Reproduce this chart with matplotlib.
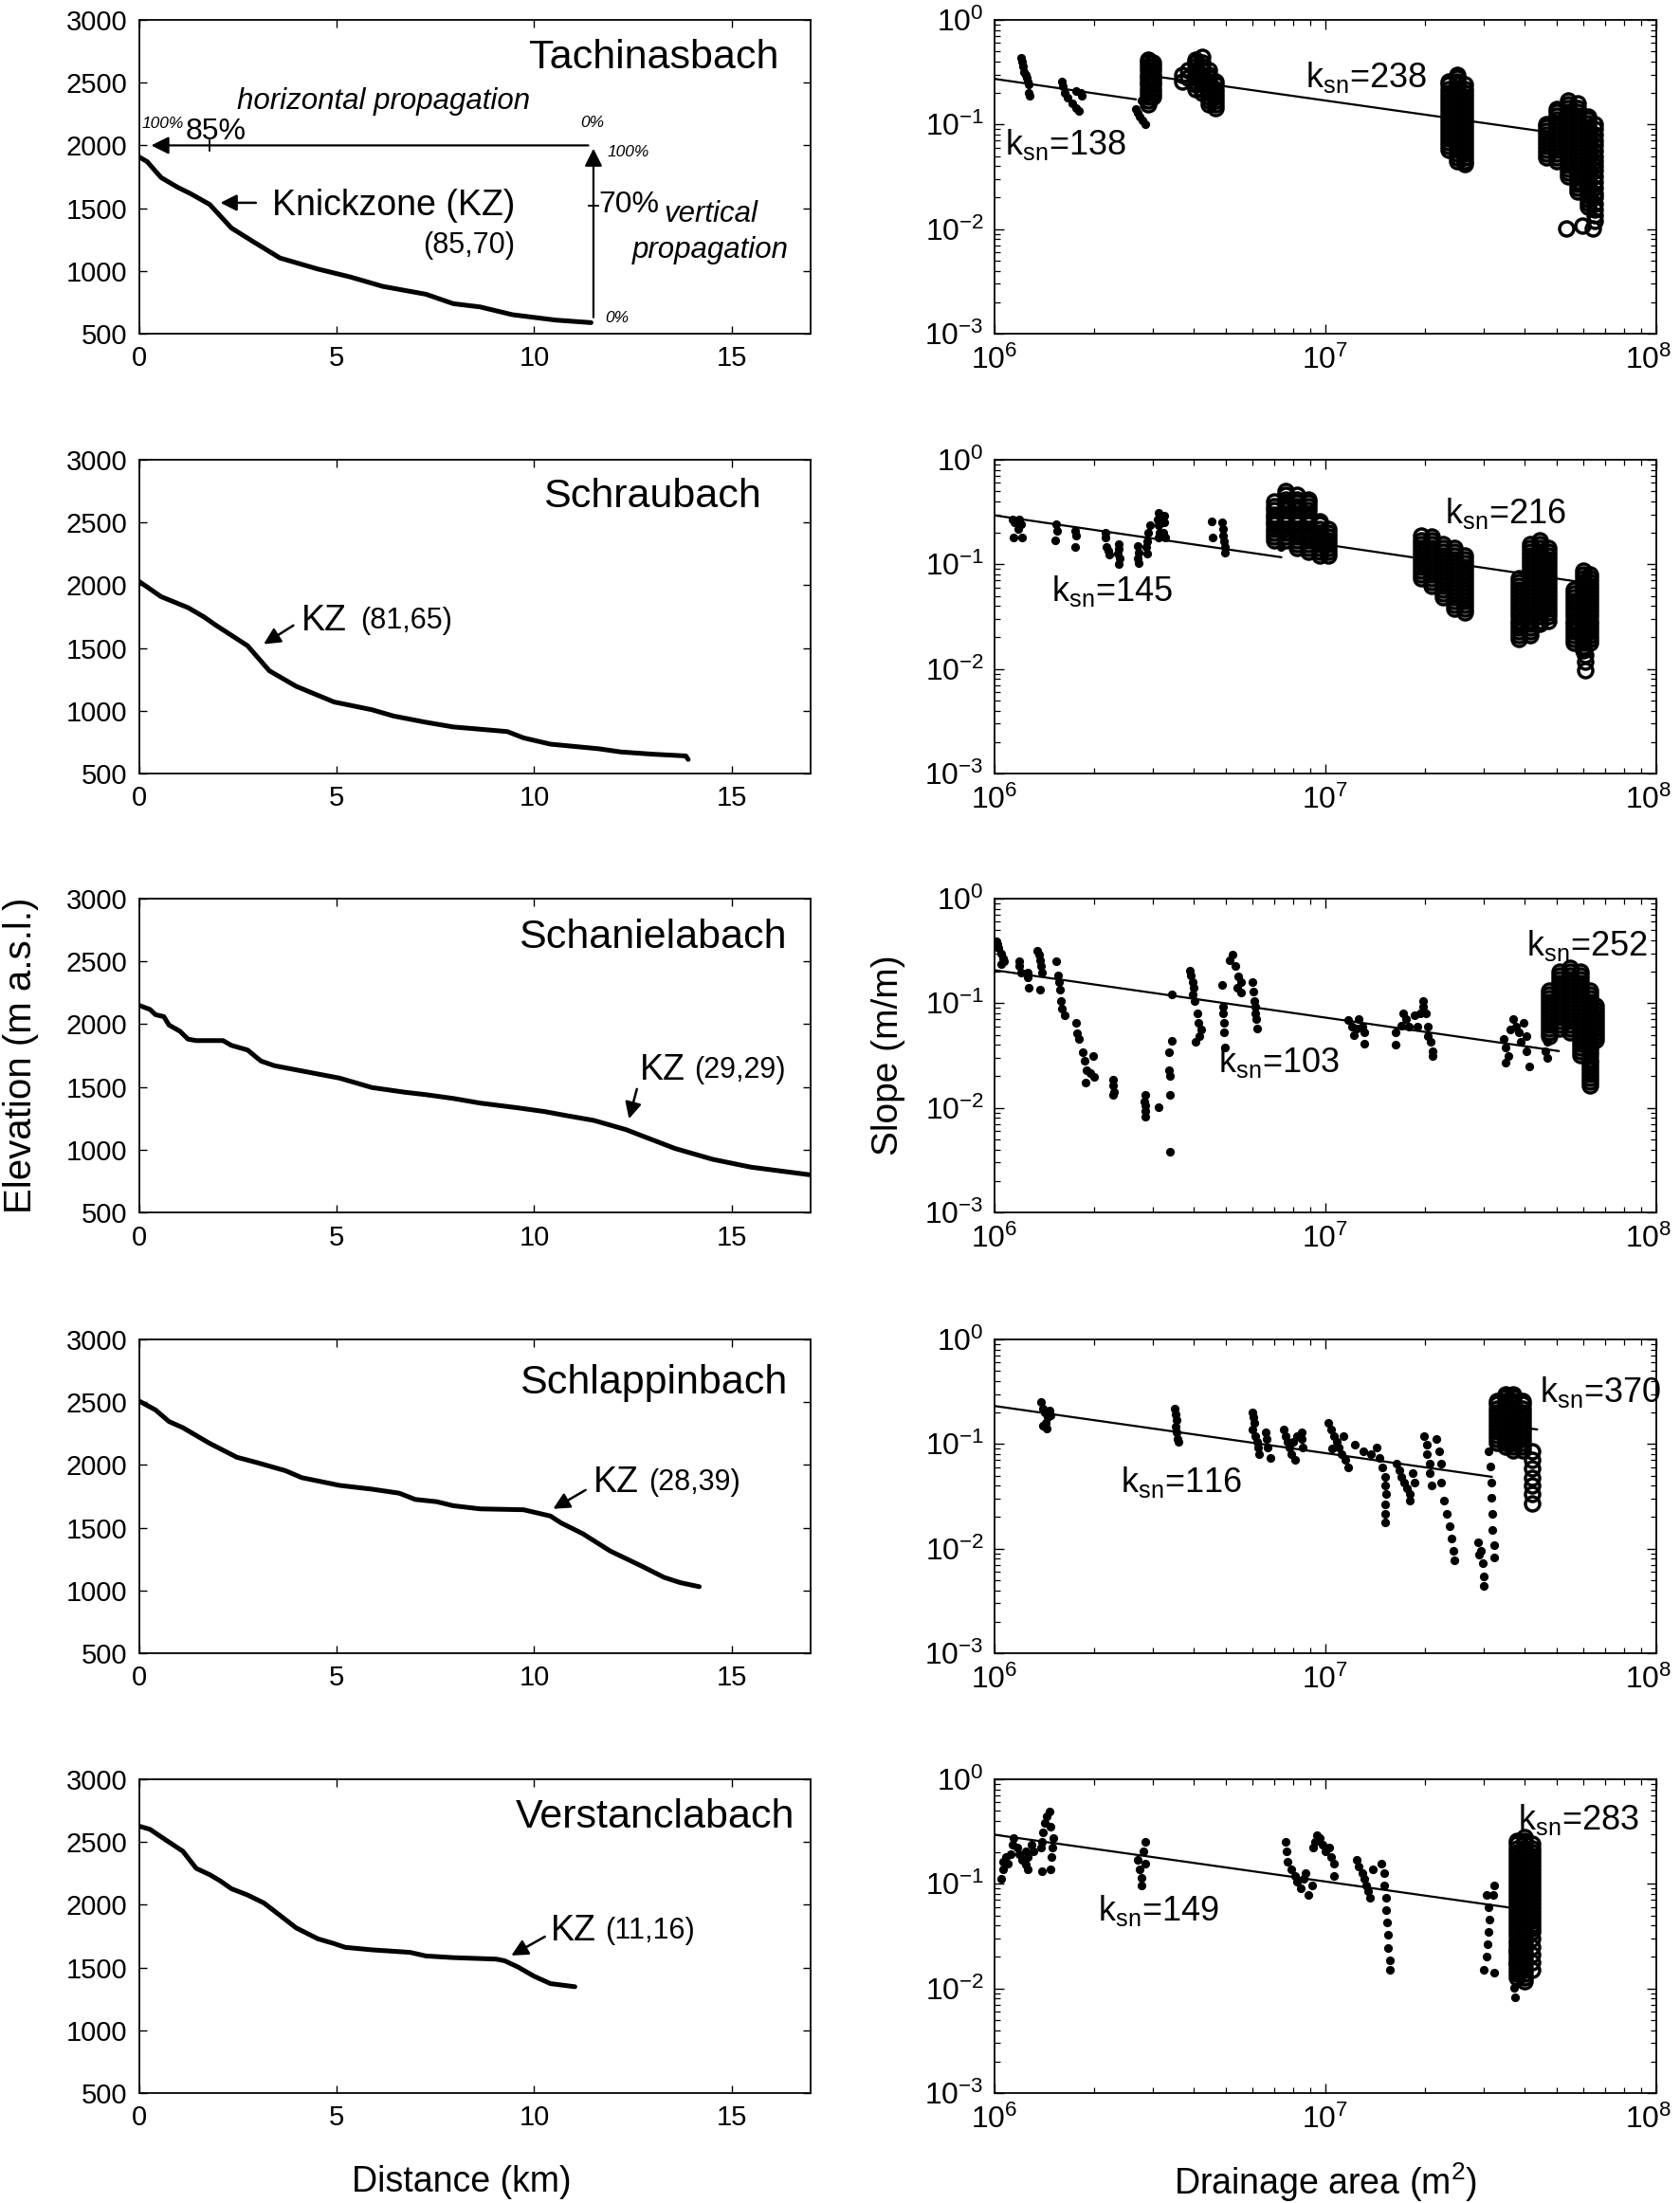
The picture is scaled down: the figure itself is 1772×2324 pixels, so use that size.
import numpy as np
import matplotlib
matplotlib.use('Agg')
import matplotlib.pyplot as plt
from matplotlib.ticker import LogLocator, NullFormatter, FixedLocator
from matplotlib.transforms import ScaledTranslation

plt.rcParams['font.family'] = ['Liberation Sans', 'DejaVu Sans']
plt.rcParams['mathtext.fontset'] = 'custom'
plt.rcParams['mathtext.rm'] = 'Liberation Sans'
plt.rcParams['mathtext.it'] = 'Liberation Sans:italic'
plt.rcParams['mathtext.bf'] = 'Liberation Sans:bold'

# ---------------- data ----------------
rivers = ['Tachinasbach', 'Schraubach', 'Schanielabach', 'Schlappinbach', 'Verstanclabach']

# long profiles: distance (km), elevation (m a.s.l.)
dist_1 = [0, 0.2, 0.55, 0.96, 1.3, 1.78, 2.33, 2.9, 3.56, 4.52, 5.34, 6.16, 7.26, 7.95, 8.63, 9.45, 10.55, 11.44]
elev_1 = [1907, 1870, 1744, 1668, 1615, 1530, 1342, 1230, 1103, 1015, 952, 877, 814, 739, 713, 651, 608, 588]
dist_2 = [0, 0.55, 1.23, 1.64, 1.92, 2.74, 3.29, 3.97, 4.93, 5.89, 6.44, 7.26, 7.95, 8.63, 9.32, 9.73, 10.41, 11.64, 12.19, 13.0, 13.84, 13.9]
elev_2 = [2029, 1909, 1822, 1747, 1685, 1518, 1319, 1195, 1070, 1008, 958, 908, 871, 853, 834, 784, 734, 697, 672, 654, 640, 612]
dist_3 = [0, 0.27, 0.41, 0.62, 0.75, 1.03, 1.23, 1.44, 2.12, 2.33, 2.74, 3.08, 3.42, 4.25, 5.07, 5.89, 6.71, 7.26, 7.95, 8.63, 9.59, 10.27, 10.82, 11.51, 12.33, 12.74, 13.56, 14.52, 15.48, 17.0]
elev_3 = [2149, 2117, 2075, 2060, 1993, 1943, 1881, 1869, 1869, 1831, 1794, 1706, 1669, 1619, 1570, 1495, 1458, 1438, 1408, 1371, 1333, 1303, 1271, 1233, 1159, 1109, 1010, 923, 861, 799]
dist_4 = [0, 0.41, 0.75, 1.1, 1.78, 2.47, 3.01, 3.7, 4.11, 5.07, 5.89, 6.58, 6.99, 7.53, 7.95, 8.63, 9.73, 10.41, 10.68, 11.23, 11.92, 12.74, 13.29, 13.7, 14.18]
elev_4 = [2508, 2438, 2346, 2297, 2172, 2061, 2016, 1954, 1899, 1837, 1807, 1775, 1725, 1707, 1675, 1650, 1643, 1593, 1538, 1452, 1315, 1191, 1104, 1062, 1030]
dist_5 = [0, 0.27, 0.68, 1.1, 1.44, 1.78, 2.05, 2.33, 2.74, 3.15, 3.56, 3.97, 4.52, 4.93, 5.21, 5.89, 6.85, 7.26, 7.95, 9.04, 9.25, 9.59, 10.0, 10.41, 11.03]
elev_5 = [2626, 2601, 2514, 2427, 2290, 2240, 2190, 2128, 2078, 2015, 1916, 1816, 1729, 1691, 1661, 1641, 1621, 1592, 1579, 1567, 1554, 1504, 1430, 1372, 1347]

# knickzone labels (horizontal %, vertical %)
kz_labels = ['(85,70)', '(81,65)', '(29,29)', '(28,39)', '(11,16)']
# arrow tail / head (km, m)
kz_tail = [(2.95, 1543), (3.9, 1680), (12.6, 1483), (11.3, 1800), (10.27, 1746)]
kz_head = [(2.05, 1543), (3.15, 1531), (12.4, 1246), (10.48, 1650), (9.42, 1596)]

# slope-area data: area in 10^6 m^2, slope in m/m
# small dots: (area, slope); circles: (area, [slopes at that area])
dots_1 = [(1.20, 0.43), (1.21, 0.40), (1.22, 0.36), (1.23, 0.32), (1.24, 0.30), (1.25, 0.28), (1.26, 0.26),
          (1.27, 0.24), (1.27, 0.20), (1.28, 0.19),
          (1.60, 0.26), (1.61, 0.23), (1.63, 0.20), (1.66, 0.18), (1.72, 0.16), (1.76, 0.145), (1.80, 0.135),
          (1.76, 0.21), (1.82, 0.20), (1.84, 0.19),
          (2.68, 0.14), (2.70, 0.13), (2.75, 0.12), (2.80, 0.11), (2.86, 0.10), (2.78, 0.17)]
circ_1 = [(2.92, [0.42, 0.39, 0.36, 0.33, 0.30, 0.28, 0.26, 0.24, 0.22, 0.20, 0.185, 0.17, 0.156]),
          (3.00, [0.39, 0.36, 0.33, 0.30, 0.28, 0.26, 0.24, 0.22, 0.20, 0.185]),
          (3.70, [0.30, 0.26]), (3.85, [0.33, 0.28]),
          (4.05, [0.42, 0.39, 0.36, 0.33, 0.30, 0.28, 0.26, 0.24, 0.22]),
          (4.25, [0.44, 0.39, 0.36, 0.33, 0.30, 0.28, 0.26, 0.24, 0.22, 0.20]),
          (4.45, [0.33, 0.30, 0.28, 0.26, 0.24, 0.22, 0.20, 0.185, 0.17, 0.156]),
          (4.65, [0.26, 0.24, 0.22, 0.20, 0.185, 0.17, 0.156, 0.144]),
          (23.5, [0.26, 0.24, 0.22, 0.20, 0.185, 0.17, 0.156, 0.144, 0.132, 0.122, 0.112, 0.103, 0.095, 0.087,
                  0.08, 0.074, 0.068, 0.062, 0.057]),
          (25.0, [0.30, 0.28, 0.26, 0.24, 0.22, 0.20, 0.185, 0.17, 0.156, 0.144, 0.132, 0.122, 0.112, 0.103, 0.095,
                  0.087, 0.08, 0.074, 0.068, 0.062, 0.057, 0.053, 0.049, 0.045]),
          (26.3, [0.24, 0.22, 0.20, 0.185, 0.17, 0.156, 0.144, 0.132, 0.122, 0.112, 0.103, 0.095, 0.087, 0.08,
                  0.074, 0.068, 0.062, 0.057, 0.053, 0.049, 0.045, 0.042]),
          (46.5, [0.10, 0.095, 0.087, 0.08, 0.074, 0.068, 0.062, 0.057, 0.053, 0.049]),
          (50, [0.14, 0.132, 0.122, 0.112, 0.103, 0.095, 0.087, 0.08, 0.074, 0.068, 0.062, 0.057, 0.053, 0.049, 0.045]),
          (54, [0.17, 0.156, 0.144, 0.132, 0.122, 0.112, 0.103, 0.095, 0.087, 0.08, 0.074, 0.068, 0.062, 0.057,
                0.053, 0.049, 0.045, 0.041, 0.038, 0.035, 0.032]),
          (58, [0.16, 0.144, 0.132, 0.122, 0.112, 0.103, 0.095, 0.087, 0.08, 0.074, 0.068, 0.062, 0.057, 0.053,
                0.049, 0.045, 0.041, 0.038, 0.035, 0.032, 0.029, 0.027, 0.025, 0.023]),
          (62, [0.12, 0.112, 0.103, 0.095, 0.087, 0.08, 0.074, 0.068, 0.062, 0.057, 0.053, 0.049, 0.045, 0.041,
                0.038, 0.035, 0.032, 0.029, 0.027, 0.025, 0.023, 0.021, 0.0193, 0.0178, 0.0164]),
          (65, [0.10, 0.09, 0.08, 0.07, 0.063, 0.056, 0.05, 0.045, 0.04, 0.036, 0.032, 0.028, 0.025, 0.022, 0.02,
                0.0175, 0.0155, 0.0135, 0.012]),
          (53.6, [0.0102]), (59.8, [0.0109]), (64.3, [0.0102])]

dots_2 = [(1.13, 0.27), (1.15, 0.25), (1.17, 0.26), (1.19, 0.27), (1.20, 0.24), (1.14, 0.18), (1.21, 0.18), (1.18, 0.22),
          (1.54, 0.24), (1.55, 0.21), (1.53, 0.17), (1.75, 0.21), (1.76, 0.19), (1.75, 0.146),
          (2.16, 0.20), (2.17, 0.18), (2.18, 0.146), (2.20, 0.136), (2.22, 0.123),
          (2.37, 0.156), (2.38, 0.14), (2.36, 0.127), (2.39, 0.115), (2.38, 0.10),
          (2.70, 0.15), (2.72, 0.13), (2.71, 0.115), (2.73, 0.103),
          (2.90, 0.167), (2.92, 0.20), (2.95, 0.236), (2.88, 0.146), (2.90, 0.127),
          (3.13, 0.31), (3.12, 0.27), (3.14, 0.236), (3.15, 0.20), (3.13, 0.18),
          (3.25, 0.29), (3.26, 0.25), (3.24, 0.20), (3.27, 0.18), (4.53, 0.26), (4.55, 0.18),
          (4.88, 0.25), (4.90, 0.22), (4.92, 0.19), (4.95, 0.167), (4.97, 0.146), (4.98, 0.13), (7.35, 0.146)]
circ_2 = [(7.0, [0.40, 0.36, 0.33, 0.30, 0.28, 0.26, 0.24, 0.22, 0.20, 0.185, 0.17]),
          (7.6, [0.50, 0.46, 0.42, 0.39, 0.36, 0.33, 0.30, 0.28, 0.26, 0.24, 0.22, 0.20, 0.185, 0.17]),
          (8.2, [0.46, 0.42, 0.39, 0.36, 0.33, 0.30, 0.28, 0.26, 0.24, 0.22, 0.20, 0.185, 0.17, 0.156, 0.144]),
          (8.9, [0.42, 0.39, 0.36, 0.33, 0.30, 0.28, 0.26, 0.24, 0.22, 0.20, 0.185, 0.17, 0.156, 0.144, 0.132]),
          (9.6, [0.26, 0.24, 0.22, 0.20, 0.185, 0.17, 0.156, 0.144, 0.132, 0.122]),
          (10.2, [0.22, 0.20, 0.185, 0.17, 0.156, 0.144, 0.132, 0.122]),
          (19.5, [0.19, 0.17, 0.156, 0.144, 0.132, 0.122, 0.112, 0.103, 0.095, 0.087, 0.08, 0.074]),
          (21.0, [0.185, 0.17, 0.156, 0.144, 0.132, 0.122, 0.112, 0.103, 0.095, 0.087, 0.08, 0.074, 0.068, 0.062]),
          (22.7, [0.156, 0.144, 0.132, 0.122, 0.112, 0.103, 0.095, 0.087, 0.08, 0.074, 0.068, 0.062, 0.057, 0.053, 0.049]),
          (24.5, [0.144, 0.132, 0.122, 0.112, 0.103, 0.095, 0.087, 0.08, 0.074, 0.068, 0.062, 0.057, 0.053, 0.049,
                  0.045, 0.041, 0.038]),
          (26.3, [0.122, 0.112, 0.103, 0.095, 0.087, 0.08, 0.074, 0.068, 0.062, 0.057, 0.053, 0.049, 0.045, 0.041,
                  0.038, 0.035]),
          (38.5, [0.074, 0.068, 0.062, 0.057, 0.053, 0.049, 0.045, 0.041, 0.038, 0.035, 0.032, 0.029, 0.027, 0.025,
                  0.023, 0.021, 0.0193]),
          (41.5, [0.156, 0.144, 0.132, 0.122, 0.112, 0.103, 0.095, 0.087, 0.08, 0.074, 0.068, 0.062, 0.057, 0.053,
                  0.049, 0.045, 0.041, 0.038, 0.035, 0.032, 0.029, 0.027, 0.025, 0.023, 0.021]),
          (44.5, [0.17, 0.156, 0.144, 0.132, 0.122, 0.112, 0.103, 0.095, 0.087, 0.08, 0.074, 0.068, 0.062, 0.057,
                  0.053, 0.049, 0.045, 0.041, 0.038, 0.035, 0.032, 0.029, 0.027]),
          (47.0, [0.144, 0.132, 0.122, 0.112, 0.103, 0.095, 0.087, 0.08, 0.074, 0.068, 0.062, 0.057, 0.053, 0.049,
                  0.045, 0.041, 0.038, 0.035, 0.032, 0.029]),
          (56.5, [0.057, 0.053, 0.049, 0.045, 0.041, 0.038, 0.035, 0.032, 0.029, 0.027, 0.025, 0.023, 0.021, 0.0193, 0.0178]),
          (60.0, [0.087, 0.08, 0.074, 0.068, 0.062, 0.057, 0.053, 0.049, 0.045, 0.041, 0.038, 0.035, 0.032, 0.029,
                  0.027, 0.025, 0.023, 0.021, 0.0193, 0.0178, 0.0164, 0.015]),
          (63.0, [0.08, 0.074, 0.068, 0.062, 0.057, 0.053, 0.049, 0.045, 0.041, 0.038, 0.035, 0.032, 0.029, 0.027,
                  0.025, 0.023, 0.021, 0.0193, 0.0178]),
          (61.0, [0.0135, 0.0118, 0.0098])]

dots_3 = [(1.01, 0.39), (1.02, 0.37), (1.03, 0.34), (1.05, 0.30), (1.06, 0.27), (1.07, 0.25), (1.05, 0.235),
          (1.19, 0.25), (1.19, 0.226), (1.20, 0.197), (1.26, 0.197), (1.26, 0.178), (1.27, 0.14),
          (1.35, 0.32), (1.36, 0.29), (1.37, 0.26), (1.38, 0.226), (1.39, 0.197), (1.37, 0.135),
          (1.54, 0.25), (1.56, 0.184), (1.57, 0.16), (1.58, 0.135), (1.59, 0.105), (1.60, 0.089), (1.63, 0.077),
          (1.76, 0.065), (1.78, 0.052), (1.80, 0.046),
          (1.85, 0.034), (1.87, 0.028), (1.90, 0.023), (1.95, 0.0216), (1.88, 0.0175), (1.98, 0.031), (2.0, 0.0196),
          (2.28, 0.0187), (2.28, 0.0163), (2.29, 0.0143), (2.28, 0.0133),
          (2.85, 0.0133), (2.84, 0.0116), (2.86, 0.0105), (2.85, 0.0094), (2.86, 0.0082), (3.13, 0.0101),
          (3.38, 0.0038), (3.38, 0.0133), (3.38, 0.0202), (3.37, 0.0231), (3.36, 0.034), (3.43, 0.0434), (3.43, 0.122),
          (3.9, 0.204), (3.92, 0.184), (3.96, 0.16), (4.0, 0.14), (3.96, 0.122), (4.03, 0.106), (4.1, 0.0805),
          (4.12, 0.065), (4.2, 0.0566), (4.15, 0.049), (4.05, 0.043),
          (4.88, 0.149), (4.9, 0.093), (4.92, 0.0805), (4.93, 0.065), (4.95, 0.0528), (4.97, 0.0375),
          (5.15, 0.26), (5.25, 0.29), (5.35, 0.226), (5.45, 0.18), (5.55, 0.16), (5.40, 0.14), (5.57, 0.128),
          (6.0, 0.16), (6.05, 0.13), (6.1, 0.106), (6.12, 0.093), (6.15, 0.08), (6.18, 0.07), (6.2, 0.057),
          (11.7, 0.0698), (12.0, 0.060), (12.4, 0.057), (12.6, 0.070), (12.9, 0.060), (13.1, 0.053), (13.1, 0.041), (12.2, 0.050),
          (16.3, 0.0528), (16.3, 0.0406), (16.9, 0.0608), (17.2, 0.080), (17.5, 0.070), (17.9, 0.060), (18.6, 0.076),
          (19.0, 0.060), (19.3, 0.080), (19.7, 0.093), (19.7, 0.106), (20.1, 0.080), (20.4, 0.060), (20.4, 0.049),
          (20.8, 0.043), (21.1, 0.035), (21.1, 0.031),
          (34.5, 0.046), (35.1, 0.0375), (35.7, 0.031), (35.1, 0.027), (36.3, 0.0566), (36.9, 0.070), (37.6, 0.060),
          (38.3, 0.053), (39.0, 0.043), (39.7, 0.065), (40.4, 0.049), (40.4, 0.035), (41.2, 0.025),
          (46.3, 0.035), (46.7, 0.030), (46.7, 0.043)]
circ_3 = [(47.5, [0.132, 0.122, 0.112, 0.103, 0.095, 0.087, 0.08, 0.074, 0.068, 0.062, 0.057, 0.053, 0.049]),
          (51, [0.20, 0.185, 0.17, 0.156, 0.144, 0.132, 0.122, 0.112, 0.103, 0.095, 0.087, 0.08, 0.074, 0.068, 0.062, 0.057]),
          (55, [0.22, 0.20, 0.185, 0.17, 0.156, 0.144, 0.132, 0.122, 0.112, 0.103, 0.095, 0.087, 0.08, 0.074, 0.068,
                0.062, 0.057, 0.053]),
          (59, [0.20, 0.185, 0.17, 0.156, 0.144, 0.132, 0.122, 0.112, 0.103, 0.095, 0.087, 0.08, 0.074, 0.068, 0.062,
                0.057, 0.053, 0.049, 0.045, 0.041, 0.038, 0.035, 0.032]),
          (63, [0.132, 0.122, 0.112, 0.103, 0.095, 0.087, 0.08, 0.074, 0.068, 0.062, 0.057, 0.053, 0.049, 0.045,
                0.041, 0.038, 0.035, 0.032, 0.029, 0.027, 0.025, 0.023, 0.021, 0.0193, 0.0178, 0.0164]),
          (65.5, [0.095, 0.087, 0.08, 0.074, 0.068, 0.062, 0.057, 0.053, 0.049, 0.045])]

dots_4 = [(1.38, 0.25), (1.40, 0.22), (1.42, 0.20), (1.45, 0.18), (1.43, 0.16), (1.40, 0.15), (1.47, 0.21), (1.48, 0.19), (1.44, 0.14),
          (3.50, 0.216), (3.52, 0.194), (3.55, 0.17), (3.53, 0.148), (3.56, 0.129), (3.58, 0.112), (3.60, 0.105),
          (6.0, 0.202), (6.05, 0.18), (6.1, 0.158), (6.0, 0.138), (6.15, 0.12), (6.2, 0.105), (6.25, 0.092), (6.3, 0.08),
          (6.6, 0.129), (6.65, 0.112), (6.7, 0.092), (6.8, 0.074),
          (7.5, 0.138), (7.6, 0.12), (7.7, 0.105), (7.8, 0.092), (7.9, 0.08), (8.1, 0.07), (8.0, 0.105), (8.2, 0.12),
          (8.5, 0.129), (8.5, 0.112), (8.55, 0.092),
          (10.2, 0.158), (10.4, 0.138), (10.6, 0.12), (10.8, 0.105), (11.0, 0.092), (11.2, 0.08), (11.5, 0.07), (11.7, 0.06),
          (10.5, 0.09), (11.3, 0.12),
          (12.3, 0.098), (13.0, 0.085), (13.7, 0.08), (14.3, 0.092), (14.6, 0.074),
          (14.9, 0.06), (15.2, 0.049), (15.2, 0.04), (15.3, 0.033), (15.2, 0.0266), (15.2, 0.0216), (15.2, 0.0177),
          (16.4, 0.0645), (16.7, 0.0565), (17.0, 0.049), (17.3, 0.043), (17.6, 0.0375), (18.0, 0.033), (18.0, 0.0285),
          (18.6, 0.043), (18.3, 0.0526),
          (19.9, 0.12), (20.2, 0.098), (20.2, 0.08), (20.6, 0.0645), (20.6, 0.0526), (21.0, 0.04),
          (21.6, 0.112), (22.0, 0.085), (22.4, 0.065), (22.4, 0.043), (22.8, 0.0285), (23.3, 0.0216), (23.7, 0.0164),
          (24.1, 0.0125), (24.3, 0.0095), (24.5, 0.0077),
          (29.0, 0.0116), (29.5, 0.0095), (29.8, 0.0072), (30.0, 0.0054), (30.0, 0.0044), (29.2, 0.0088),
          (31.2, 0.085), (31.5, 0.0606), (31.8, 0.043), (31.8, 0.0305), (32.0, 0.0216), (32.0, 0.0152), (32.3, 0.0109), (32.3, 0.0083)]
circ_4 = [(33, [0.26, 0.24, 0.22, 0.20, 0.185, 0.17, 0.156, 0.144, 0.132, 0.122, 0.112, 0.103]),
          (35, [0.30, 0.28, 0.26, 0.24, 0.22, 0.20, 0.185, 0.17, 0.156, 0.144, 0.132, 0.122, 0.112, 0.103, 0.095]),
          (37, [0.30, 0.28, 0.26, 0.24, 0.22, 0.20, 0.185, 0.17, 0.156, 0.144, 0.132, 0.122, 0.112, 0.103, 0.095, 0.087]),
          (39.5, [0.26, 0.24, 0.22, 0.20, 0.185, 0.17, 0.156, 0.144, 0.132, 0.122, 0.112, 0.103, 0.095, 0.087]),
          (42, [0.085, 0.07, 0.058, 0.048, 0.04, 0.033, 0.027])]

dots_5 = [(1.05, 0.111), (1.06, 0.137), (1.06, 0.163), (1.08, 0.18), (1.10, 0.157), (1.12, 0.193), (1.13, 0.237), (1.14, 0.272),
          (1.17, 0.221), (1.19, 0.193), (1.21, 0.168), (1.24, 0.152), (1.26, 0.137), (1.24, 0.206), (1.29, 0.237), (1.31, 0.206), (1.26, 0.18),
          (1.38, 0.221), (1.39, 0.254), (1.40, 0.312), (1.42, 0.383), (1.44, 0.44), (1.47, 0.487), (1.48, 0.353), (1.51, 0.272),
          (1.50, 0.221), (1.49, 0.18), (1.48, 0.137), (1.39, 0.133),
          (2.70, 0.168), (2.75, 0.137), (2.78, 0.115), (2.78, 0.097), (2.82, 0.206), (2.85, 0.254), (2.85, 0.157),
          (7.6, 0.254), (7.65, 0.206), (7.7, 0.163),
          (7.9, 0.137), (8.1, 0.119), (8.2, 0.104), (8.4, 0.091), (8.6, 0.111), (8.7, 0.128), (8.9, 0.079), (9.1, 0.097), (9.2, 0.221), (9.3, 0.254),
          (9.4, 0.291), (9.6, 0.272), (9.8, 0.237), (10.0, 0.206), (10.3, 0.221), (10.4, 0.18), (10.6, 0.119), (10.6, 0.157),
          (12.4, 0.168), (12.6, 0.147), (12.9, 0.128), (13.1, 0.111), (13.3, 0.097), (13.5, 0.085), (13.6, 0.074), (13.9, 0.137),
          (14.8, 0.157), (15.1, 0.128), (15.1, 0.097), (15.3, 0.074), (15.3, 0.056), (15.4, 0.0425), (15.5, 0.0325), (15.5, 0.0246),
          (15.7, 0.0187), (15.7, 0.0152),
          (30.6, 0.079), (31.2, 0.06), (31.4, 0.0457), (31.2, 0.035), (30.9, 0.0265), (30.6, 0.02), (30.0, 0.0152), (32.4, 0.0142),
          (32.1, 0.079), (32.4, 0.097),
          (36.7, 0.0229), (36.7, 0.0174), (37.1, 0.0133), (37.1, 0.0101), (37.5, 0.0082)]
circ_5 = [(38.0, [0.26, 0.24, 0.22, 0.20, 0.185, 0.17, 0.156, 0.144, 0.132, 0.122, 0.112, 0.103, 0.095, 0.087, 0.08,
                  0.074, 0.068, 0.062, 0.057, 0.053, 0.049, 0.045, 0.041, 0.038, 0.035, 0.032, 0.029, 0.027, 0.025,
                  0.023, 0.021, 0.0193, 0.0178, 0.0164, 0.015, 0.0138, 0.0127]),
          (40.0, [0.28, 0.26, 0.24, 0.22, 0.20, 0.185, 0.17, 0.156, 0.144, 0.132, 0.122, 0.112, 0.103, 0.095, 0.087,
                  0.08, 0.074, 0.068, 0.062, 0.057, 0.053, 0.049, 0.045, 0.041, 0.038, 0.035, 0.032, 0.029, 0.027,
                  0.025, 0.023, 0.021, 0.0193, 0.0178, 0.0164, 0.015, 0.0138, 0.0127, 0.0117]),
          (42.0, [0.24, 0.22, 0.20, 0.185, 0.17, 0.156, 0.144, 0.132, 0.122, 0.112, 0.103, 0.095, 0.087, 0.08, 0.074,
                  0.068, 0.062, 0.057, 0.053, 0.049, 0.045, 0.041, 0.038, 0.035, 0.03, 0.025, 0.021, 0.0178, 0.015])]

# regression segments: (area endpoints in 10^6 m^2, slope endpoints)
fits_1 = [([1.0, 2.67], [0.273, 0.174]), ([2.8, 44.2], [0.30, 0.087])]
fits_2 = [([1.0, 7.35], [0.294, 0.117]), ([7.4, 57.7], [0.178, 0.0684])]
fits_3 = [([1.0, 50.7], [0.207, 0.0349])]
fits_4 = [([1.0, 31.8], [0.231, 0.0486]), ([32.0, 43.6], [0.155, 0.138])]
fits_5 = [([1.0, 37.9], [0.295, 0.058])]

# steepness indices and label anchor (area 10^6 m^2, slope)
ksn_1 = [('138', 1.077, 0.064), ('238', 8.7, 0.283)]
ksn_2 = [('145', 1.49, 0.0557), ('216', 23.0, 0.31)]
ksn_3 = [('103', 4.75, 0.0274), ('252', 40.5, 0.354)]
ksn_4 = [('116', 2.4, 0.043), ('370', 44.5, 0.315)]
ksn_5 = [('149', 2.05, 0.056), ('283', 38.2, 0.41)]

profiles = [(dist_1, elev_1), (dist_2, elev_2), (dist_3, elev_3), (dist_4, elev_4), (dist_5, elev_5)]
dots_all = [dots_1, dots_2, dots_3, dots_4, dots_5]
circ_all = [circ_1, circ_2, circ_3, circ_4, circ_5]
fits_all = [fits_1, fits_2, fits_3, fits_4, fits_5]
ksn_all = [ksn_1, ksn_2, ksn_3, ksn_4, ksn_5]

# ---------------- layout ----------------
W, H = 1772, 2324
fig = plt.figure(figsize=(W / 100, H / 100), dpi=100)
row_bottom_px = [352, 816, 1279, 1744, 2208]
ax_h = 331 / H
left_x, left_w = 147 / W, 708 / W
right_x, right_w = 1049 / W, 698 / W

title_pos = [(16.2, 2698), (15.75, 2706), (16.4, 2689), (16.4, 2654), (16.6, 2700)]
kz_text_pos = [None, (4.1, 1718), (12.67, 1632), (11.5, 1862), (10.41, 1791)]
kz_num_x = [None, 5.6, 14.04, 12.9, 11.8]

TICK_L = 21
TICK_R = 23

for i in range(5):
    yb = 1 - row_bottom_px[i] / H
    # ---- left: long profile ----
    axl = fig.add_axes([left_x, yb, left_w, ax_h])
    d, e = profiles[i]
    axl.plot(d, e, color='k', lw=3.6, solid_capstyle='round', solid_joinstyle='round')
    axl.set_xlim(0, 17)
    axl.set_ylim(500, 3000)
    axl.xaxis.set_major_locator(FixedLocator([0, 5, 10, 15]))
    axl.yaxis.set_major_locator(FixedLocator([500, 1000, 1500, 2000, 2500, 3000]))
    axl.tick_params(direction='in', top=True, right=True, length=6, width=1.0, labelsize=TICK_L)
    axl.tick_params(axis='x', pad=9)
    axl.tick_params(axis='y', pad=9)
    for sp in axl.spines.values():
        sp.set_linewidth(1.3)
    tx, ty = title_pos[i]
    axl.text(tx, ty, rivers[i], ha='right', va='center', fontsize=31)

    if i == 0:
        axl.text(3.36, 1518, 'Knickzone (KZ)', ha='left', va='center', fontsize=27)
        axl.text(7.19, 1204, kz_labels[0], ha='left', va='center', fontsize=22)
        axl.annotate('', xy=(0.3, 2000), xytext=(11.37, 2000),
                     arrowprops=dict(arrowstyle='-|>', lw=1.6, color='k', mutation_scale=28,
                                     shrinkA=0, shrinkB=0))
        axl.annotate('', xy=(11.5, 1975), xytext=(11.5, 630),
                     arrowprops=dict(arrowstyle='-|>', lw=1.6, color='k', mutation_scale=28,
                                     shrinkA=0, shrinkB=0))
        axl.plot([1.78, 1.78], [1960, 2040], color='k', lw=1.3)
        axl.plot([11.38, 11.62], [1518, 1518], color='k', lw=1.3)
        axl.text(0.07, 2171, '100%', ha='left', va='center', fontsize=12.5, style='italic')
        axl.text(1.16, 2108, '85%', ha='left', va='center', fontsize=23)
        axl.text(11.16, 2183, '0%', ha='left', va='center', fontsize=12.5, style='italic')
        axl.text(11.85, 1950, '100%', ha='left', va='center', fontsize=12.5, style='italic')
        axl.text(11.8, 626, '0%', ha='left', va='center', fontsize=12.5, style='italic')
        axl.text(11.64, 1530, '70%', ha='left', va='center', fontsize=23)
        axl.text(2.47, 2347, 'horizontal propagation', ha='left', va='center', fontsize=22.5, style='italic')
        axl.text(13.29, 1455, 'vertical', ha='left', va='center', fontsize=22.5, style='italic')
        axl.text(12.47, 1166, 'propagation', ha='left', va='center', fontsize=22.5, style='italic')
    else:
        kx, ky = kz_text_pos[i]
        axl.text(kx, ky, 'KZ', ha='left', va='center', fontsize=27)
        axl.text(kz_num_x[i], ky, kz_labels[i], ha='left', va='center', fontsize=22)
    axl.annotate('', xy=kz_head[i], xytext=kz_tail[i],
                 arrowprops=dict(arrowstyle='-|>', lw=1.8, color='k', mutation_scale=26,
                                 shrinkA=0, shrinkB=0))

    # ---- right: slope-area ----
    axr = fig.add_axes([right_x, yb, right_w, ax_h])
    axr.set_xscale('log')
    axr.set_yscale('log')
    da = np.array([p[0] for p in dots_all[i]]) * 1e6
    ds = np.array([p[1] for p in dots_all[i]])
    ca = np.concatenate([[a * 1e6] * len(s) for a, s in circ_all[i]])
    cs = np.concatenate([s for a, s in circ_all[i]])
    for xs, ys in fits_all[i]:
        axr.plot(np.array(xs) * 1e6, ys, color='k', lw=1.6, zorder=3)
    axr.plot(da, ds, linestyle='none', marker='o', ms=5.6, mfc='k', mec='k', zorder=2)
    axr.plot(ca, cs, linestyle='none', marker='o', ms=10.8, mfc='none', mec='k', mew=2.5, zorder=2)
    for val, ax_, sy in ksn_all[i]:
        axr.text(ax_ * 1e6, sy, r'k$_{\mathrm{sn}}$=' + val, ha='left', va='center', fontsize=26, zorder=4)
    axr.set_xlim(1e6, 1e8)
    axr.set_ylim(1e-3, 1)
    axr.xaxis.set_major_locator(FixedLocator([1e6, 1e7, 1e8]))
    axr.xaxis.set_minor_locator(LogLocator(base=10, subs=np.arange(2, 10), numticks=20))
    axr.xaxis.set_minor_formatter(NullFormatter())
    axr.yaxis.set_major_locator(FixedLocator([1e-3, 1e-2, 1e-1, 1e0]))
    axr.yaxis.set_minor_locator(LogLocator(base=10, subs=np.arange(2, 10), numticks=20))
    axr.yaxis.set_minor_formatter(NullFormatter())
    axr.tick_params(which='both', direction='in', top=True, right=True, labelsize=TICK_R)
    axr.tick_params(which='major', length=7, width=1.0)
    axr.tick_params(which='minor', length=4, width=0.9)
    axr.tick_params(axis='x', which='both', pad=9)
    axr.tick_params(axis='y', which='both', pad=8)
    for sp in axr.spines.values():
        sp.set_linewidth(1.3)
    # keep the rightmost tick label inside the canvas
    last = axr.xaxis.get_major_ticks()[2].label1
    last.set_transform(last.get_transform() + ScaledTranslation(-0.08, 0, fig.dpi_scale_trans))

fig.text(22 / W, 1 - 1113 / H, 'Elevation (m a.s.l.)', rotation=90, ha='center', va='center', fontsize=29)
fig.text(937 / W, 1 - 1113 / H, 'Slope (m/m)', rotation=90, ha='center', va='center', fontsize=28)
fig.text(487 / W, 1 - 2302 / H, 'Distance (km)', ha='center', va='center', fontsize=27)
fig.text(1398 / W, 1 - 2302 / H, r'Drainage area (m$^{2}$)', ha='center', va='center', fontsize=27)

fig.savefig('out.png', dpi=100, facecolor='white')
